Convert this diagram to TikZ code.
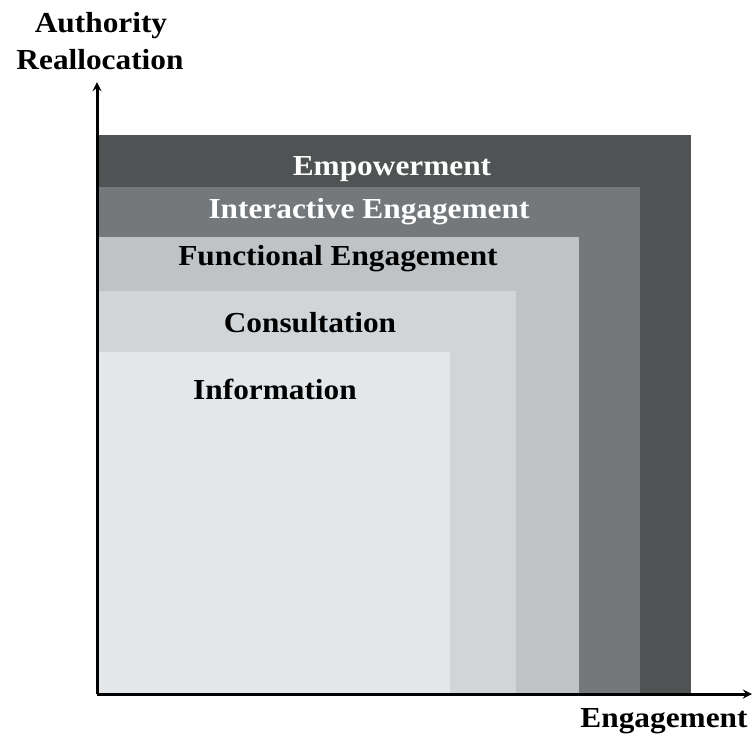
\documentclass[tikz,border=0pt]{standalone}
\usepackage{fontspec}
\setmainfont{Liberation Serif}
\usetikzlibrary{arrows}

\definecolor{empower}{HTML}{4F5354}
\definecolor{interact}{HTML}{74787B}
\definecolor{functional}{HTML}{BFC3C6}
\definecolor{consult}{HTML}{D1D5D8}
\definecolor{inform}{HTML}{E4E7E9}

\begin{document}
\begin{tikzpicture}[x=1pt,y=-1pt,>=stealth]
\tikzset{lbl/.style={font=\bfseries\fontsize{29}{36}\selectfont, inner sep=0pt,
                     anchor=base, xscale=1.08, text=#1},
         lbl/.default=black,
         axis/.style={line width=3pt, ->}}
\useasboundingbox (0,0) rectangle (752,737);
% The levels, outermost first
\fill[empower]    (97,135) rectangle (691,693);
\fill[interact]   (97,187) rectangle (640,693);
\fill[functional] (97,237) rectangle (579,693);
\fill[consult]    (97,291) rectangle (516,693);
\fill[inform]     (97,352) rectangle (450,693);
% Level names
\node[lbl=white] (empw) at (392,175) {Empowerment};
\node[lbl=white] (inter) at (369,218) {Interactive Engagement};
\node[lbl] (func) at (338,265) {Functional Engagement};
\node[lbl] (cons) at (310,332) {Consultation};
\node[lbl] (info) at (275,399) {Information};
% The axes
\coordinate (O) at (97,694);
\coordinate (ytip) at (97,82);
\coordinate (xtip) at (752,694);
\draw[axis] (O) -- (ytip);
\draw[axis] (O) -- (xtip);
\node[lbl] (auth) at (101,32) {Authority};
\node[lbl] (realloc) at (100,69) {Reallocation};
\node[lbl] (eng) at (664,727) {Engagement};
\end{tikzpicture}
\end{document}
